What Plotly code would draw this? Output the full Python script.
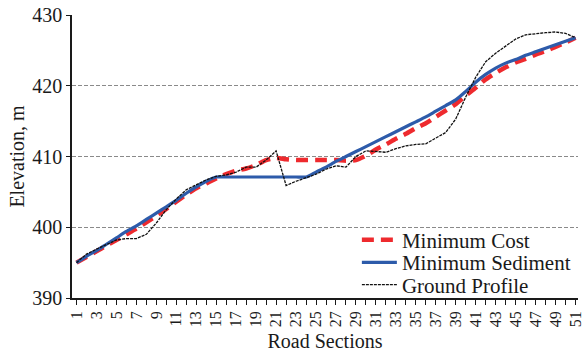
import plotly.graph_objects as go

# Road sections along the alignment
sections = list(range(1, 52))
section_labels = [str(s) if s % 2 == 1 else "" for s in sections]

# Design elevations (m) for each alternative and the existing ground line
min_cost = [395.0, 395.8, 396.6, 397.4, 398.2, 399.0, 399.8, 400.7, 401.6, 402.6,
            403.6, 404.6, 405.5, 406.2, 406.9, 407.5, 408.0, 408.3, 408.8, 409.5,
            409.8, 409.6, 409.5, 409.5, 409.5, 409.5, 409.5, 409.4, 409.5, 410.1,
            411.0, 411.7, 412.5, 413.2, 414.0, 414.7, 415.6, 416.5, 417.4, 418.6,
            419.7, 420.9, 421.8, 422.6, 423.3, 423.8, 424.4, 424.9, 425.5, 426.1,
            426.8]
min_sediment = [395.0, 395.9, 396.7, 397.6, 398.5, 399.4, 400.2, 401.1, 402.0, 402.9,
                403.8, 404.8, 405.7, 406.5, 407.1, 407.1, 407.1, 407.1, 407.1, 407.1,
                407.1, 407.1, 407.1, 407.1, 407.8, 408.5, 409.3, 410.0, 410.7, 411.4,
                412.1, 412.8, 413.5, 414.2, 414.9, 415.6, 416.4, 417.2, 418.0, 419.2,
                420.5, 421.6, 422.5, 423.2, 423.7, 424.3, 424.8, 425.3, 425.8, 426.3,
                426.8]
ground = [395.0, 396.2, 396.9, 397.6, 398.2, 398.4, 398.4, 399.0, 400.6, 402.5,
          404.0, 405.3, 406.0, 406.7, 407.2, 407.4, 407.8, 408.5, 408.5, 409.5,
          410.8, 405.9, 406.5, 407.0, 407.5, 408.2, 408.7, 408.5, 410.0, 410.8,
          410.7, 410.6, 411.1, 411.5, 411.7, 411.8, 412.6, 413.4, 415.3, 418.4,
          421.2, 423.4, 424.6, 425.6, 426.6, 427.2, 427.4, 427.5, 427.6, 427.4,
          426.8]

y_ticks = [390, 400, 410, 420, 430]

FONT = "Liberation Serif"
INK = "#1a1a1a"

fig = go.Figure()
fig.add_trace(go.Scatter(
    x=sections, y=min_cost, mode="lines", name="Minimum Cost", legend="legend",
    line=dict(color="#EE2A2E", width=4.5, dash="12px,7px", shape="spline", smoothing=0.6),
))
fig.add_trace(go.Scatter(
    x=sections, y=min_sediment, mode="lines", name="Minimum Sediment", legend="legend2",
    line=dict(color="#2D5BAA", width=3.2, shape="spline", smoothing=0.6),
))
fig.add_trace(go.Scatter(
    x=sections, y=ground, mode="lines", name="Ground Profile", legend="legend3",
    line=dict(color="#111111", width=1.3, dash="3px,1px"),
))

# One legend box per series so the rows sit at a tight, even pitch
legend_style = dict(
    x=0.563, xanchor="left", yanchor="middle",
    bgcolor="rgba(0,0,0,0)", font=dict(family=FONT, size=21, color=INK),
    itemwidth=35,
)

fig.update_layout(
    width=584, height=353,
    margin=dict(l=72, r=6, t=15, b=55),
    paper_bgcolor="white", plot_bgcolor="white",
    font=dict(family=FONT, color=INK),
    showlegend=True,
    legend=dict(y=0.205, **legend_style),
    legend2=dict(y=0.125, **legend_style),
    legend3=dict(y=0.046, **legend_style),
)

fig.update_xaxes(
    range=[0.55, 51.25], tickmode="array", tickvals=sections, ticktext=section_labels,
    tickangle=-90, tickfont=dict(family=FONT, size=16, color=INK),
    ticklabeloverflow="allow",
    ticks="outside", ticklen=5, tickwidth=1, tickcolor=INK,
    showline=True, linecolor=INK, linewidth=1.5,
    showgrid=False, zeroline=False, automargin=False,
    title=dict(text="Road Sections", font=dict(family=FONT, size=20, color=INK), standoff=8),
)
fig.update_yaxes(
    range=[390, 430], tickmode="array", tickvals=y_ticks,
    tickfont=dict(family=FONT, size=20, color=INK),
    ticks="outside", ticklen=4, tickwidth=1.2, tickcolor=INK,
    showline=True, linecolor=INK, linewidth=1.5,
    showgrid=True, gridcolor="#8a8a8a", gridwidth=1, griddash="4px,2px",
    zeroline=False, automargin=False,
    title=dict(text="Elevation, m", font=dict(family=FONT, size=20, color=INK), standoff=2),
)

fig.write_html("out.html")
